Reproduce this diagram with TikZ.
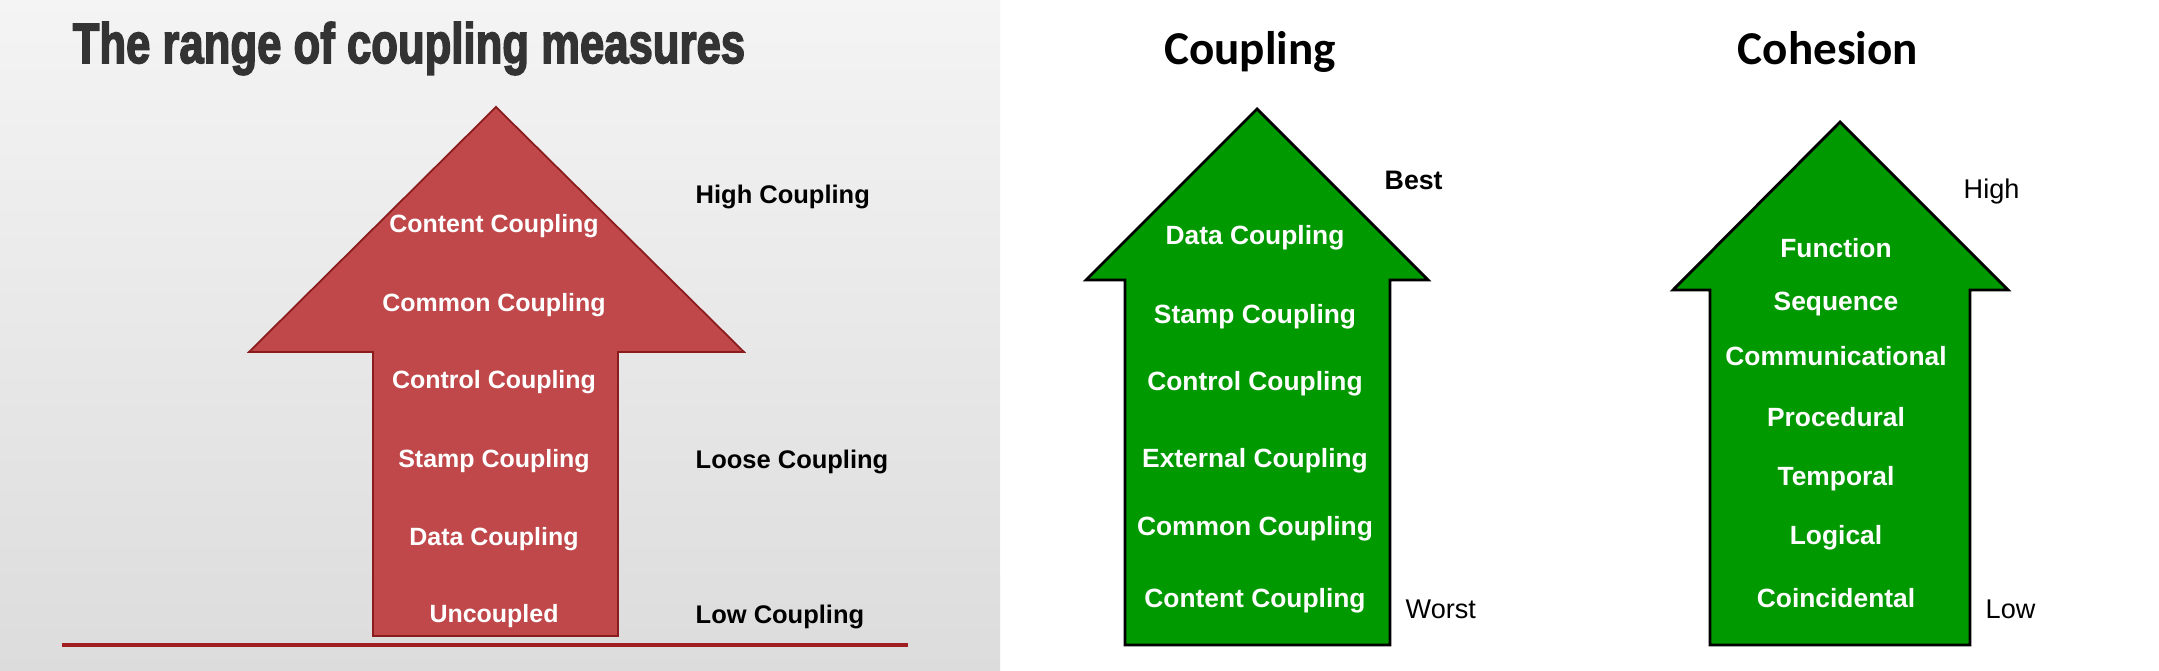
\documentclass[tikz,border=0pt]{standalone}
\usepackage{tikz}
\usepackage{xcolor}
\usepackage{fontspec}
\setmainfont{Liberation Sans}
\newfontfamily\calibri{Carlito}
\newfontfamily\heavyfont[FakeBold=3]{Liberation Sans}

\definecolor{slidetop}{RGB}{244,244,244}
\definecolor{slidebot}{RGB}{220,220,220}
\definecolor{arrowred}{RGB}{192,72,75}
\definecolor{edgered}{RGB}{138,28,30}
\definecolor{linered}{RGB}{160,30,34}
\definecolor{arrowgreen}{RGB}{0,153,0}
\definecolor{titlegray}{RGB}{51,51,51}

\tikzset{
  redlbl/.style={text=white, font=\bfseries\fontsize{7.1}{8}\selectfont},
  sidelbl/.style={anchor=west, inner sep=0pt, font=\bfseries\fontsize{7.25}{8}\selectfont},
  greenlbl/.style={text=white, font=\bfseries\fontsize{7.5}{9}\selectfont},
  ranklbl/.style={anchor=west, inner sep=0pt, font=\fontsize{7.7}{9}\selectfont},
  headlbl/.style={anchor=base, inner sep=0pt, font=\calibri\bfseries\fontsize{13.4}{16}\selectfont}
}

\begin{document}
\begin{tikzpicture}[x=0.01cm, y=-0.01cm]
  \useasboundingbox (0,0) rectangle (2159,671);
  \fill[white] (0,0) rectangle (2159,671);

  % Left slide with gray paper background
  \shade[top color=slidetop, bottom color=slidebot] (0,0) rectangle (1000,671);
  \node[anchor=base west, inner sep=0pt, text=titlegray] (slidetitle) at (72,63)
    {\resizebox{6.72cm}{0.41cm}{\heavyfont\bfseries The range of coupling measures}};

  % Red arrow
  \filldraw[fill=arrowred, draw=edgered, line width=0.5pt]
    (496,107) -- (744,352) -- (618,352) -- (618,636) -- (373,636) -- (373,352) -- (249,352) -- cycle;
  \foreach \txt/\ypos/\nm in {Content Coupling/226/content, Common Coupling/305/common,
      Control Coupling/382/control, Stamp Coupling/461/stamp,
      Data Coupling/539/data, Uncoupled/616/uncoupled}
    \node[redlbl] (\nm) at (494,\ypos) {\txt};

  \node[sidelbl] (high) at (695,197) {High Coupling};
  \node[sidelbl] (loose) at (695,462) {Loose Coupling};
  \node[sidelbl] (low) at (695,617) {Low Coupling};

  % Red base line
  \draw[linered, line width=0.95pt] (62,645) -- (908,645);

  % Coupling arrow
  \node[headlbl] (couplinghead) at (1250,65) {Coupling};
  \filldraw[fill=arrowgreen, draw=black, line width=0.8pt]
    (1257,109) -- (1428,280) -- (1390,280) -- (1390,645) -- (1125,645) -- (1125,280) -- (1086,280) -- cycle;
  \foreach \txt/\ypos/\nm in {Data Coupling/238/cdata, Stamp Coupling/317/cstamp,
      Control Coupling/384/ccontrol, External Coupling/461/cexternal,
      Common Coupling/529/ccommon, Content Coupling/601/ccontent}
    \node[greenlbl] (\nm) at (1255,\ypos) {\txt};
  \node[ranklbl, font=\bfseries\fontsize{7.6}{9}\selectfont] (best) at (1384,180) {Best};
  \node[ranklbl] (worst) at (1405,609) {Worst};

  % Cohesion arrow
  \node[headlbl] (cohesionhead) at (1828,65) {Cohesion};
  \filldraw[fill=arrowgreen, draw=black, line width=0.8pt]
    (1840,122) -- (2008,290) -- (1970,290) -- (1970,645) -- (1710,645) -- (1710,290) -- (1673,290) -- cycle;
  \foreach \txt/\ypos/\nm in {Function/248/function, Sequence/304/sequence,
      Communicational/356/communicational, Procedural/417/procedural,
      Temporal/479/temporal, Logical/538/logical, Coincidental/598/coincidental}
    \node[greenlbl] (\nm) at (1836,\ypos) {\txt};
  \node[ranklbl] (highc) at (1963,192) {High};
  \node[ranklbl] (lowc) at (1985,609) {Low};
\end{tikzpicture}
\end{document}
